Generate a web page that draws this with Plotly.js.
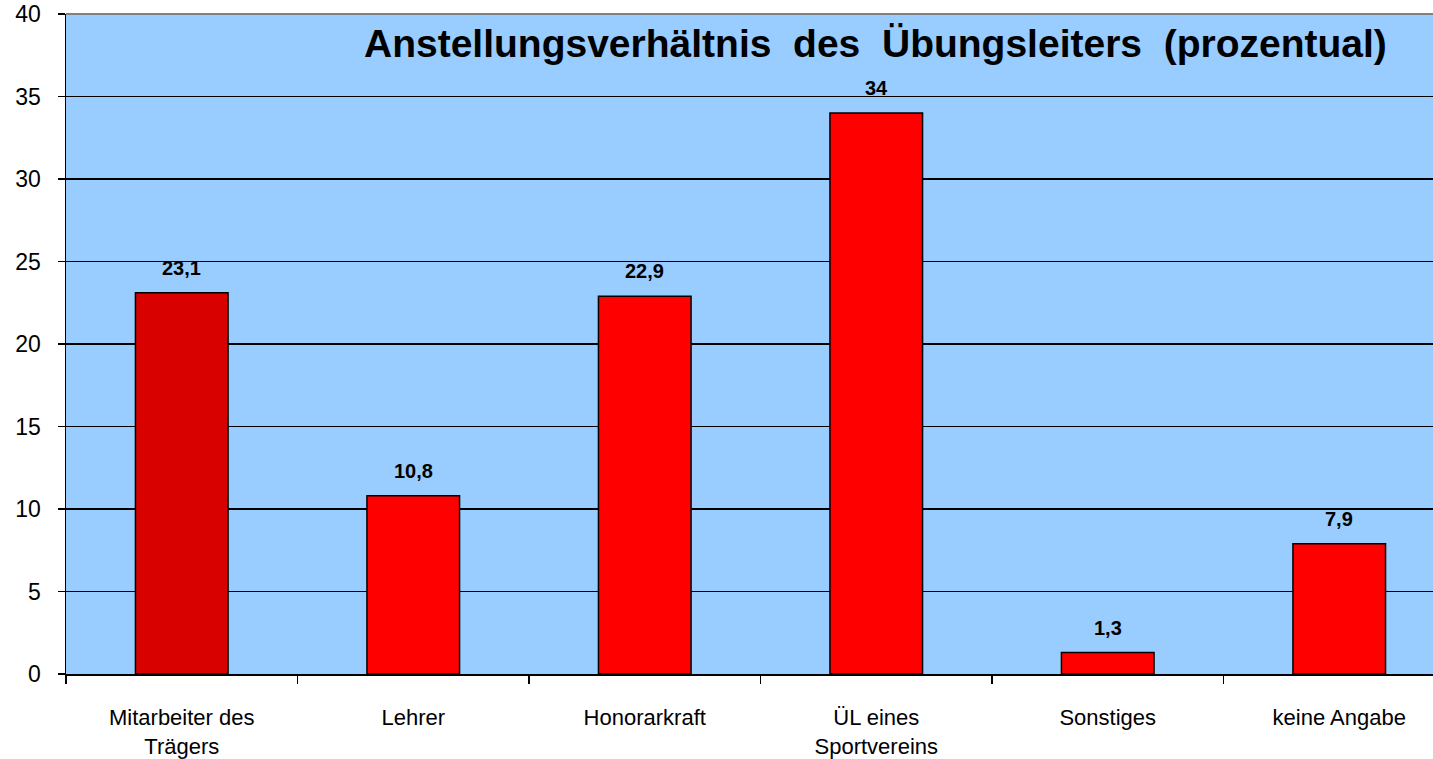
<!DOCTYPE html>
<html>
<head>
<meta charset="utf-8">
<script src="https://cdn.plot.ly/plotly-3.0.1.min.js"></script>
<style>html,body{margin:0;padding:0;background:#fff;overflow:hidden}#chart{width:1433px;height:759px}</style>
</head>
<body>
<div id="chart"></div>
<script>
var categories = ["Mitarbeiter des<br>Trägers", "Lehrer", "Honorarkraft", "ÜL eines<br>Sportvereins", "Sonstiges", "keine Angabe"];
var values = [23.1, 10.8, 22.9, 34, 1.3, 7.9];
var barColors = ["#D90000", "#FF0000", "#FF0000", "#FF0000", "#FF0000", "#FF0000"];
var yTicks = [0, 5, 10, 15, 20, 25, 30, 35, 40];
var titleText = "Anstellungsverhältnis des Übungsleiters (prozentual)";

var labels = values.map(function(v){ return String(v).replace('.', ','); });

var trace = {
  type: 'bar',
  x: categories,
  y: values,
  width: 0.4,
  marker: {color: barColors, line: {color: '#000', width: 1.5}},
  hoverinfo: 'none'
};

var FONT = 'Liberation Sans, Arial, sans-serif';

var annotations = categories.map(function(c, i){
  return {
    x: c, y: values[i], xref: 'x', yref: 'y',
    text: '<b>' + labels[i] + '</b>',
    showarrow: false, yanchor: 'bottom', xanchor: 'center',
    yshift: 12,
    font: {size: 20, color: '#000', family: FONT}
  };
});
annotations.push({
  text: '<b>' + titleText.split(' ').join('&nbsp;&nbsp;') + '</b>',
  xref: 'paper', yref: 'paper',
  x: 0.5925, y: 0.956, xanchor: 'center', yanchor: 'middle',
  showarrow: false,
  font: {size: 39, color: '#000', family: FONT}
});

var layout = {
  width: 1433, height: 759,
  margin: {l: 66, r: 0, t: 14, b: 85},
  paper_bgcolor: '#FFFFFF',
  plot_bgcolor: '#99CCFF',
  showlegend: false,
  font: {family: FONT, color: '#000', size: 22},
  xaxis: {
    type: 'category',
    range: [-0.5, 5.405],
    showline: true, linecolor: '#000', linewidth: 1.5,
    ticks: 'outside', tickson: 'boundaries', ticklen: 8, tickcolor: '#000', tickwidth: 1.5,
    showgrid: false,
    tickfont: {size: 22, color: '#000', family: FONT},
    ticklabelstandoff: 23
  },
  yaxis: {
    range: [0, 40], tickvals: yTicks,
    showline: true, linecolor: '#000', linewidth: 1.5,
    ticks: 'outside', ticklen: 7, tickcolor: '#000', tickwidth: 1.5,
    showgrid: true, gridcolor: '#000', gridwidth: 1.3,
    zeroline: false,
    tickfont: {size: 23, color: '#000', family: FONT},
    ticklabelstandoff: 12
  },
  annotations: annotations,
  shapes: [{
    type: 'line', xref: 'paper', yref: 'paper', x0: 0, x1: 1, y0: 1, y1: 1,
    line: {color: '#808080', width: 2}
  }]
};

Plotly.newPlot('chart', [trace], layout, {displayModeBar: false, staticPlot: true});
</script>
</body>
</html>
